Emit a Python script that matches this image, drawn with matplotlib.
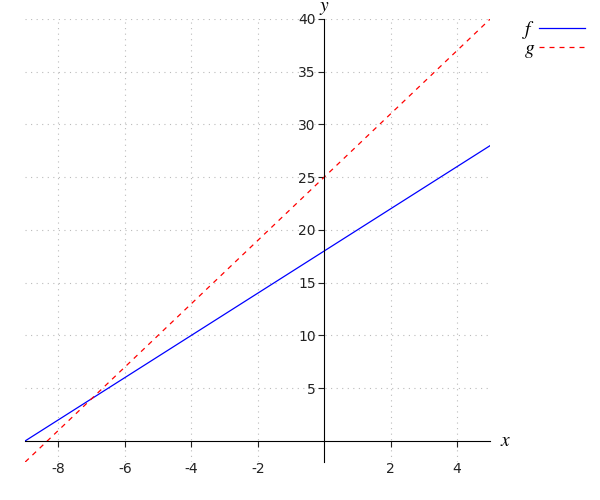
import numpy as np
import matplotlib
matplotlib.use('Agg')
import matplotlib.pyplot as plt

plt.rcParams['axes.unicode_minus'] = False
plt.rcParams['mathtext.fontset'] = 'stix'

# line endpoints
x_vals = [-9, 5]
f_vals = [0, 28]    # f(x) = 2x + 18
g_vals = [-2, 40]   # g(x) = 3x + 25
xticks = [-8, -6, -4, -2, 2, 4]
yticks = [5, 10, 15, 20, 25, 30, 35, 40]

fig = plt.figure(figsize=(6, 5), dpi=100)
ax = fig.add_axes([0.042, 0.076, 0.775, 0.886])

ax.plot(x_vals, f_vals, color='#0000ff', lw=0.9, label='$f$')
ax.plot(x_vals, g_vals, color='#ff0000', lw=0.9, ls=(0, (4, 4)), label='$g$')

ax.set_xlim(-9, 5)
ax.set_ylim(-2, 40)
ax.spines['left'].set_position(('data', 0))
ax.spines['bottom'].set_position(('data', 0))
ax.spines['right'].set_visible(False)
ax.spines['top'].set_visible(False)

ax.set_xticks(xticks)
ax.set_yticks(yticks)
ax.set_xticklabels([str(t) for t in xticks])
ax.set_yticklabels([str(t) for t in yticks])
ax.tick_params(axis='x', direction='out', length=4, labelsize=10, colors='#222222', pad=11)
ax.tick_params(axis='y', direction='out', length=4, labelsize=10, colors='#222222', pad=2)
ax.grid(True, color='#bbbbbb', ls=(0, (1, 4)), lw=0.8)

ax.text(5.3, 0, '$x$', fontsize=14, va='center', ha='left')
ax.text(0, 40.2, '$y$', fontsize=14, va='bottom', ha='center')

ax.legend(loc='upper left', bbox_to_anchor=(1.03, 1.04), frameon=False,
          markerfirst=False, fontsize=14, handlelength=2.4,
          handletextpad=0.2, labelspacing=-0.1)

fig.savefig('out.png', dpi=100)
